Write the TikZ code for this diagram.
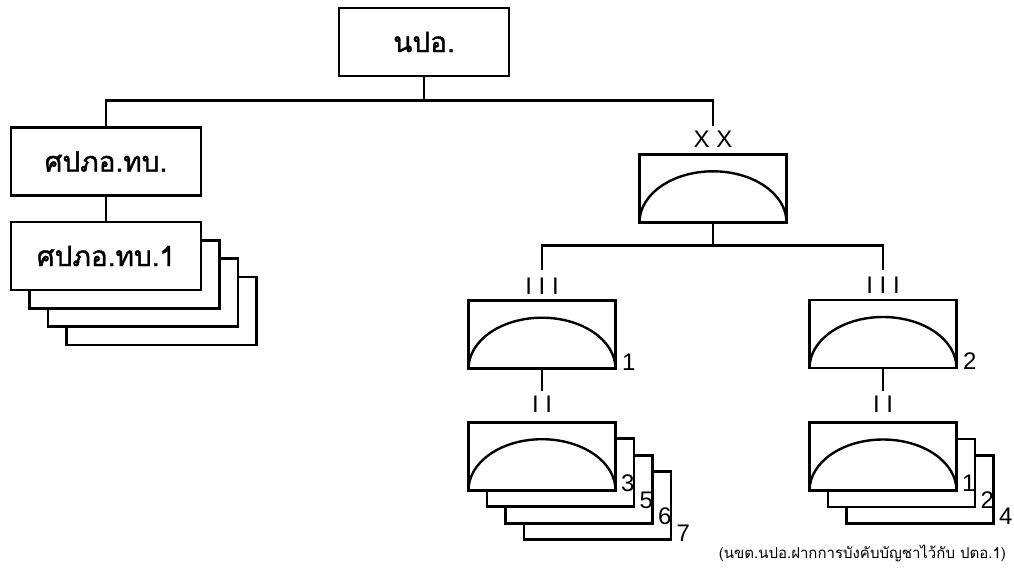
\documentclass[tikz,border=0pt]{standalone}
\usepackage{fontspec}
\setmainfont{Liberation Sans}
\newfontfamily\thaifont[Script=Thai]{Loma}
\newfontfamily\thaiboxfont[Script=Thai,FakeBold=1.2]{Loma}
\usetikzlibrary{positioning,calc,backgrounds}

\begin{document}
\begin{tikzpicture}
[x=1pt,y=-1pt,
every node/.style={inner sep=0pt},
org/.style={draw,fill=white,line width=2.8pt,minimum height=68pt,
  font=\thaiboxfont\fontsize{28}{30}\selectfont},
unit/.style={draw,fill=white,line width=2.8pt,minimum width=147pt,minimum height=68pt},
arm/.style={unit,path picture={\draw[line width=2.4pt]
  (path picture bounding box.south west) arc[start angle=180,end angle=0,x radius=73.5pt,y radius=51pt];}},
link/.style={line width=2.8pt},
echelon/.style={font=\fontsize{24}{24}\selectfont},
num/.style={font=\fontsize{24}{24}\selectfont,anchor=base west}]

\useasboundingbox (0,0) rectangle (1014,570);

%% headquarters and its centres
\node[org,minimum width=170pt] (npo) at (424,42) {นปอ.};
\node[org,minimum width=190pt] (spo) at (106,161.5) {ศปภอ.ทบ.};
\node[org,minimum width=190pt] (spo1) at (106,256) {ศปภอ.ทบ.1};
\begin{scope}[on background layer]
\foreach \i in {3,2,1}
  \node[unit,minimum width=190pt] (spo1-\i) at ([shift={(\i*18.5,\i*18.3)}]spo1) {};
\end{scope}

%% division
\node[arm] (div) at (713,188.3) {};
\node[echelon,above=5pt of div] (divmark) {X X};

%% regiments
\node[arm] (reg1) at (542,334.7) {};
\node[arm] (reg2) at (883,334) {};
\node[echelon,above=5pt of reg1] (reg1mark) {I I I};
\node[echelon,above=5pt of reg2] (reg2mark) {I I I};
\node[num] at ([xshift=5pt]reg1.south east) {1};
\node[num] at ([xshift=5pt]reg2.south east) {2};

%% battalions
\node[arm] (bn1) at (542,456.2) {};
\node[arm] (bn2) at (883,456.5) {};
\begin{scope}[on background layer]
\foreach \i in {3,2,1}
  \node[unit] (bn1-\i) at ([shift={(\i*18.5,\i*16.5)}]bn1) {};
\foreach \i in {2,1}
  \node[unit] (bn2-\i) at ([shift={(\i*18.5,\i*16.5)}]bn2) {};
\end{scope}
\node[echelon,above=8pt of bn1] (bn1mark) {I I};
\node[echelon,above=8pt of bn2] (bn2mark) {I I};
\node[num] at ([xshift=4pt]bn1.south east) {3};
\node[num] at ([xshift=4pt]bn1-1.south east) {5};
\node[num] at ([xshift=4pt]bn1-2.south east) {6};
\node[num] at ([xshift=4pt]bn1-3.south east) {7};
\node[num] at ([xshift=4pt]bn2.south east) {1};
\node[num] at ([xshift=4pt]bn2-1.south east) {2};
\node[num] at ([xshift=4pt]bn2-2.south east) {4};

%% connectors
\coordinate (bar1) at (0,100.5);
\draw[link] (npo.south) -- (npo.south |- bar1) -| (spo.north);
\draw[link] (npo.south |- bar1) -| ([yshift=5pt]divmark.north);
\draw[link] (spo.south) -- (spo1.north);
\coordinate (bar2) at (0,245.7);
\draw[link] (div.south) -- (div.south |- bar2) -| ([yshift=7pt]reg1mark.north);
\draw[link] (div.south |- bar2) -| ([yshift=7pt]reg2mark.north);
\draw[link] (reg1.south) -- ([yshift=5pt]bn1mark.north);
\draw[link] (reg2.south) -- ([yshift=5pt]bn2mark.north);

\node[font=\thaifont\fontsize{15}{15}\selectfont,anchor=east] (note) at (1006,553)
{(นขต.นปอ.ฝากการบังคับบัญชาไว้กับ ปตอ.1)};
\end{tikzpicture}
\end{document}
